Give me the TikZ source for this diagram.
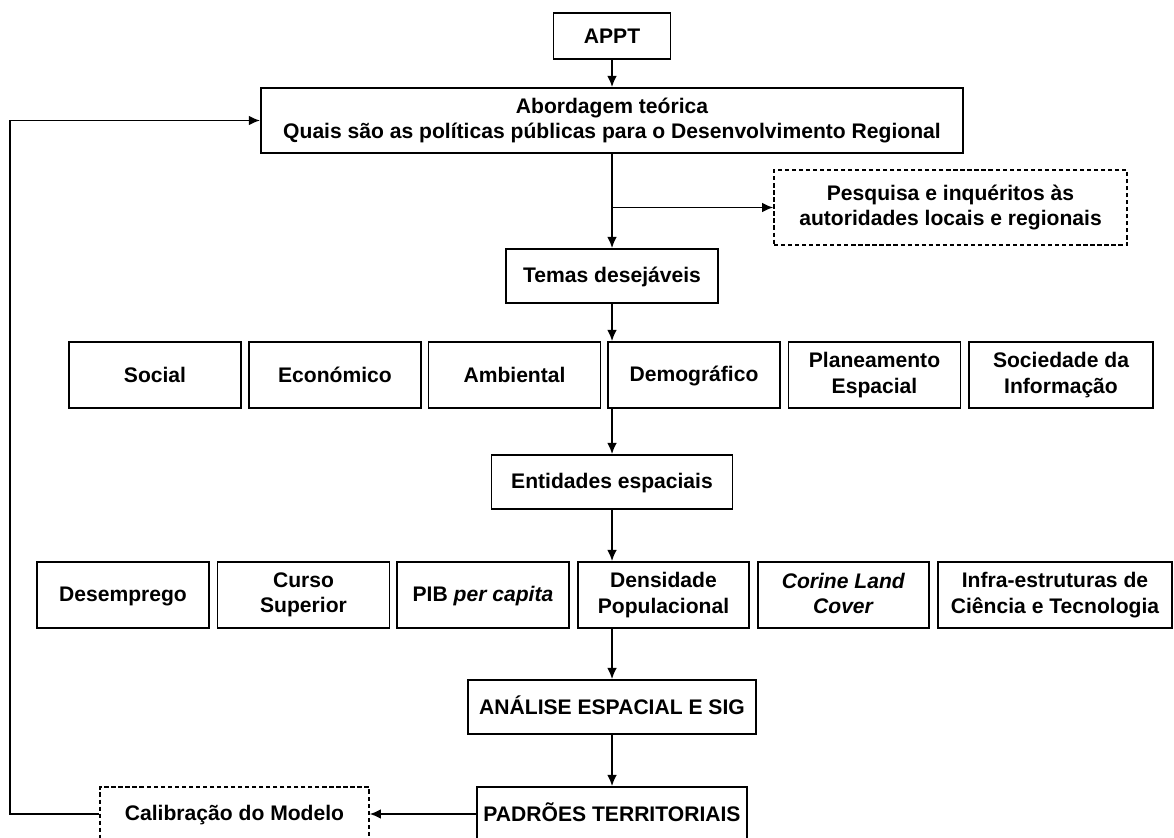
\documentclass[tikz,border=0pt]{standalone}
\usepackage{fontspec}
\setmainfont{Liberation Sans}
\usetikzlibrary{arrows.meta}

\newcommand\apoio{\rule[-2.5pt]{0pt}{15.5pt}}

\tikzset{
  caixa/.style={draw, line width=1.2pt, fill=white, align=center, inner sep=0pt,
    font=\bfseries\fontsize{15}{18}\selectfont,
    execute at begin node=\apoio, execute at end node=\apoio},
  tracejada/.style={caixa, line width=0.9pt, dash pattern=on 3pt off 2pt},
  seta/.style={line width=1.4pt, -{Latex[length=8pt,width=7pt]}},
}

\begin{document}
\begin{tikzpicture}[x=0.025cm, y=-0.025cm]
	\clip (0,0) rectangle (1174,837);
	\node[caixa, minimum width=2.925cm, minimum height=1.15cm] (appt) at (612,36) {APPT};
	\node[caixa, minimum width=17.55cm, minimum height=1.625cm] (abord) at (612,120.5) {Abordagem teórica\\Quais são as políticas públicas para o Desenvolvimento Regional};
	\node[tracejada, minimum width=8.825cm, minimum height=1.875cm] (pesq) at (950.5,207.5) {Pesquisa e inquéritos às\\autoridades locais e regionais};
	\node[caixa, minimum width=5.3cm, minimum height=1.35cm] (temas) at (612,276) {Temas desejáveis};
	% temas
	\foreach \nome/\px/\lg/\texto in {social/155/4.3/Social, econ/335/4.3/Económico, amb/514.5/4.3/Ambiental, demo/694/4.3/Demográfico, plan/874.5/4.3/Planeamento\\Espacial, soc/1061/4.6/Sociedade da\\Informação}
		\node[caixa, minimum width=\lg cm, minimum height=1.65cm] (\nome) at (\px,375) {\texto};
	\node[caixa, minimum width=6.025cm, minimum height=1.35cm] (ent) at (612,482) {Entidades espaciais};
	% indicadores
	\foreach \nome/\px/\lg/\texto in {desemp/123/4.3/Desemprego, curso/303.5/4.3/Curso\\Superior, pib/483/4.3/{PIB \textit{per capita}}, dens/663.5/4.275/Densidade\\Populacional, corine/843.5/4.275/{\textit{Corine Land}\\\textit{Cover}}, infra/1055/5.85/Infra-estruturas de\\Ciência e Tecnologia}
		\node[caixa, minimum width=\lg cm, minimum height=1.65cm] (\nome) at (\px,595) {\texto};
	\node[caixa, minimum width=7.2cm, minimum height=1.35cm] (analise) at (612,707) {ANÁLISE ESPACIAL E SIG};
	\node[caixa, minimum width=6.75cm, minimum height=1.35cm] (padroes) at (612,814) {PADRÕES TERRITORIAIS};
	\node[tracejada, minimum width=6.725cm, minimum height=1.35cm] (calib) at (234.5,814) {Calibração do Modelo};
	\coordinate (ramo) at (abord.south |- pesq.west);
	\coordinate (volta) at (10,814);
	\draw[seta] (appt) -- (abord);
	\draw[seta] (abord) -- (temas);
	\draw[seta] (ramo) -- (pesq.west);
	\draw[seta] (temas) -- (temas.south |- demo.north);
	\draw[seta] (temas.south |- demo.south) -- (ent);
	\draw[seta] (ent) -- (ent.south |- dens.north);
	\draw[seta] (ent.south |- dens.south) -- (analise);
	\draw[seta] (analise) -- (padroes);
	\draw[seta] (padroes) -- (calib);
	\draw[seta] (calib.west) -- (volta) |- (abord.west);
\end{tikzpicture}
\end{document}
